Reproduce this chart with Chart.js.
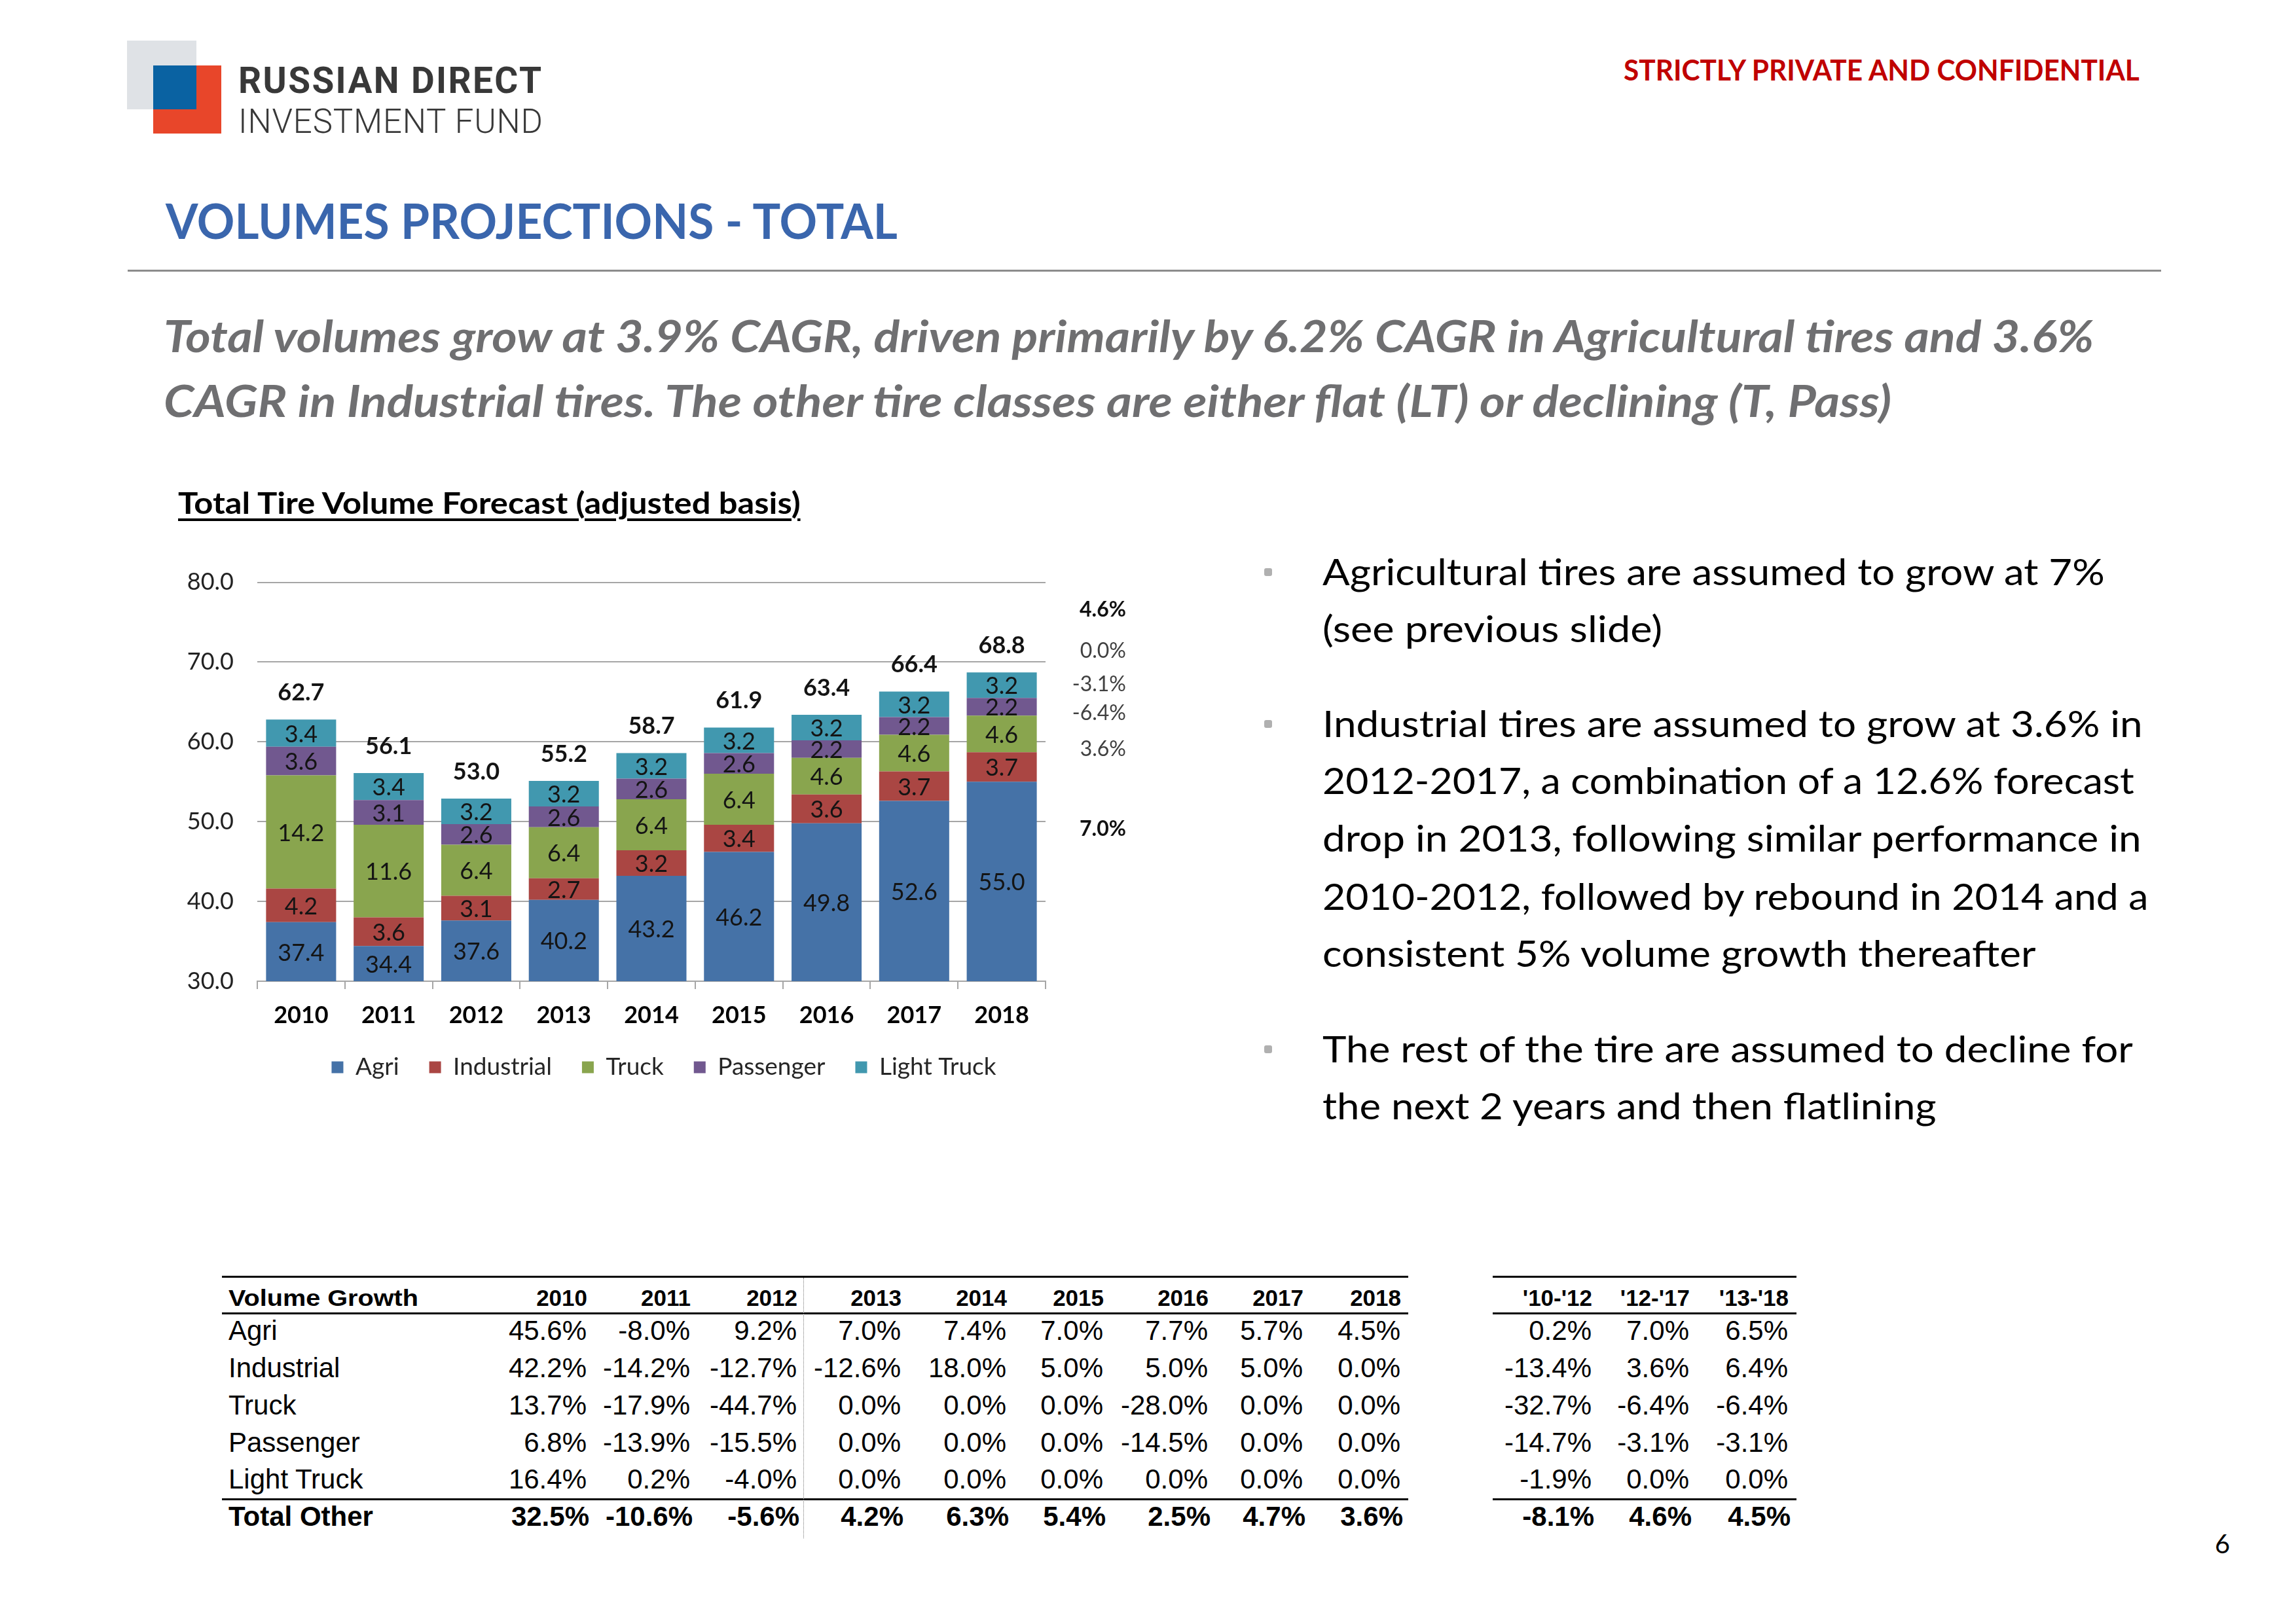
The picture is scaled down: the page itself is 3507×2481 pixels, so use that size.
<!DOCTYPE html>
<html>
<head>
<meta charset="utf-8">
<script src="https://cdn.jsdelivr.net/npm/chart.js@4.4.1/dist/chart.umd.min.js"></script>
<style>
  html, body { margin: 0; padding: 0; background: #fff; }
  #slide { position: relative; width: 3507px; height: 2481px; overflow: hidden; background: #fff; }
  .abs { position: absolute; }
</style>
</head>
<body>
<div id="slide">
  <!-- logo blocks -->
  <div class="abs" style="left:194px;top:62px;width:106px;height:105px;background:#dfe2e6"></div>
  <div class="abs" style="left:234px;top:100px;width:104px;height:104px;background:#e8462a"></div>
  <div class="abs" style="left:234px;top:100px;width:66px;height:67px;background:#0a62a2"></div>
  <!-- header rule -->
  <div class="abs" style="left:195px;top:412px;width:3106px;height:3px;background:#8c8c8c"></div>
  <!-- table rules -->
  <div class="abs" style="left:339px;top:1949px;width:1812px;height:3px;background:#000"></div>
  <div class="abs" style="left:339px;top:2005px;width:1812px;height:3px;background:#000"></div>
  <div class="abs" style="left:339px;top:2289px;width:1812px;height:3px;background:#000"></div>
  <div class="abs" style="left:2280px;top:1949px;width:464px;height:3px;background:#000"></div>
  <div class="abs" style="left:2280px;top:2005px;width:464px;height:3px;background:#000"></div>
  <div class="abs" style="left:2280px;top:2289px;width:464px;height:3px;background:#000"></div>
  <div class="abs" style="left:1227px;top:1952px;width:0;height:398px;border-left:1px dotted #777"></div>
  <div class="abs" style="left:240px;top:832px;width:1548px;height:838px">
    <canvas id="chart" width="1548" height="838"></canvas>
  </div>
</div>
<script>
// chart data
const years = ['2010', '2011', '2012', '2013', '2014', '2015', '2016', '2017', '2018'];
const agri = [37.4, 34.4, 37.6, 40.2, 43.2, 46.2, 49.8, 52.6, 55.0];
const industrial = [4.2, 3.6, 3.1, 2.7, 3.2, 3.4, 3.6, 3.7, 3.7];
const truck = [14.2, 11.6, 6.4, 6.4, 6.4, 6.4, 4.6, 4.6, 4.6];
const passenger = [3.6, 3.1, 2.6, 2.6, 2.6, 2.6, 2.2, 2.2, 2.2];
const lightTruck = [3.4, 3.4, 3.2, 3.2, 3.2, 3.2, 3.2, 3.2, 3.2];
const totals = [62.7, 56.1, 53.0, 55.2, 58.7, 61.9, 63.4, 66.4, 68.8];
const sideCagr = ['4.6%', '0.0%', '-3.1%', '-6.4%', '3.6%', '7.0%'];

// table data
const tableYears = ['2010', '2011', '2012', '2013', '2014', '2015', '2016', '2017', '2018'];
const cagrHeads = ["'10-'12", "'12-'17", "'13-'18"];
const rowNames = ['Agri', 'Industrial', 'Truck', 'Passenger', 'Light Truck', 'Total Other'];
const growthAgri = ['45.6%', '-8.0%', '9.2%', '7.0%', '7.4%', '7.0%', '7.7%', '5.7%', '4.5%', '0.2%', '7.0%', '6.5%'];
const growthIndustrial = ['42.2%', '-14.2%', '-12.7%', '-12.6%', '18.0%', '5.0%', '5.0%', '5.0%', '0.0%', '-13.4%', '3.6%', '6.4%'];
const growthTruck = ['13.7%', '-17.9%', '-44.7%', '0.0%', '0.0%', '0.0%', '-28.0%', '0.0%', '0.0%', '-32.7%', '-6.4%', '-6.4%'];
const growthPassenger = ['6.8%', '-13.9%', '-15.5%', '0.0%', '0.0%', '0.0%', '-14.5%', '0.0%', '0.0%', '-14.7%', '-3.1%', '-3.1%'];
const growthLightTruck = ['16.4%', '0.2%', '-4.0%', '0.0%', '0.0%', '0.0%', '0.0%', '0.0%', '0.0%', '-1.9%', '0.0%', '0.0%'];
const growthTotal = ['32.5%', '-10.6%', '-5.6%', '4.2%', '6.3%', '5.4%', '2.5%', '4.7%', '3.6%', '-8.1%', '4.6%', '4.5%'];

const bullets = [
  'Agricultural tires are assumed to grow at 7%',
  '(see previous slide)',
  'Industrial tires are assumed to grow at 3.6% in',
  '2012-2017, a combination of a 12.6% forecast',
  'drop in 2013, following similar performance in',
  '2010-2012, followed by rebound in 2014 and a',
  'consistent 5% volume growth thereafter',
  'The rest of the tire are assumed to decline for',
  'the next 2 years and then flatlining'
];

const slide = document.getElementById('slide');
const mctx = document.createElement('canvas').getContext('2d');

// place a text line by its baseline, optionally fitted to a width
function txt(str, x, base, size, o = {}) {
  const font = `${o.style || 'normal'} ${o.weight || 400} ${size}px ${o.fam || 'Lato'}`;
  mctx.font = font;
  const m = mctx.measureText(str);
  const asc = m.fontBoundingBoxAscent, desc = m.fontBoundingBoxDescent;
  const el = document.createElement('div');
  el.textContent = str;
  el.style.position = 'absolute';
  el.style.whiteSpace = 'pre';
  el.style.font = font;
  el.style.lineHeight = size + 'px';
  el.style.color = o.color || '#000';
  el.style.top = (base - (size - asc - desc) / 2 - asc) + 'px';
  const nw = m.width;
  let left = o.align === 'right' ? x - nw : x;
  if (o.w && o.ls) {
    el.style.letterSpacing = ((o.w - nw) / (str.length - 1)) + 'px';
    if (o.align === 'right') left = x - o.w;
  } else if (o.w) {
    el.style.transform = `scaleX(${o.w / nw})`;
    el.style.transformOrigin = o.align === 'right' ? 'right center' : 'left center';
  }
  if (o.underline) {
    el.style.textDecoration = 'underline';
    el.style.textDecorationThickness = '4px';
    el.style.textUnderlineOffset = '7px';
  }
  el.style.left = left + 'px';
  slide.appendChild(el);
}

// header
txt('RUSSIAN DIRECT', 364, 142, 55, { fam: 'Roboto', weight: 700, color: '#383838', w: 463, ls: true });
txt('INVESTMENT FUND', 364, 203, 51, { fam: 'Roboto', weight: 300, color: '#383838', w: 466, ls: true });
txt('STRICTLY PRIVATE AND CONFIDENTIAL', 2480, 123, 44, { weight: 700, color: '#c00000', w: 791 });
txt('VOLUMES PROJECTIONS - TOTAL', 253, 365, 74, { weight: 700, color: '#3a66ad', w: 1120 });
txt('Total volumes grow at 3.9% CAGR, driven primarily by 6.2% CAGR in Agricultural tires and 3.6%',
  250, 538, 67, { weight: 700, style: 'italic', color: '#6f6f71', w: 2957 });
txt('CAGR in Industrial tires. The other tire classes are either flat (LT) or declining (T, Pass)',
  250, 637, 67, { weight: 700, style: 'italic', color: '#6f6f71', w: 2646 });
txt('Total Tire Volume Forecast (adjusted basis)', 272, 785, 46, { weight: 700, w: 954, underline: true });

// bullets
const bulletBase = [894, 981, 1126, 1213, 1301, 1390, 1477, 1623, 1710];
const bulletW = [1196, 519, 1254, 1241, 1252, 1263, 1091, 1239, 939];
bullets.forEach((b, i) => txt(b, 2020, bulletBase[i], 56, { w: bulletW[i] }));
[0, 2, 7].forEach(i => {
  const d = document.createElement('div');
  d.className = 'abs';
  d.style.cssText += `left:1931px;top:${bulletBase[i] - 26}px;width:12px;height:12px;border-radius:3px;background:#b0b0b0`;
  slide.appendChild(d);
});

// CAGR notes beside the chart
const sideBase = [942, 1005, 1056, 1100, 1155, 1277];
sideCagr.forEach((s, i) => {
  const bold = i === 0 || i === sideCagr.length - 1;
  txt(s, 1720, sideBase[i], 32, { weight: bold ? 700 : 400, color: bold ? '#111' : '#404040', align: 'right' });
});

// table
const colRight = [896, 1054, 1217, 1376, 1537, 1685, 1845, 1990, 2139, 2431, 2580, 2731];
const rowBase = [2047, 2104, 2161, 2218, 2274, 2331];
const rows = [growthAgri, growthIndustrial, growthTruck, growthPassenger, growthLightTruck, growthTotal];
const tf = '"Liberation Sans", Arial, sans-serif';
txt('Volume Growth', 349, 1995, 35, { fam: tf, weight: 700, w: 290 });
tableYears.concat(cagrHeads).forEach((h, i) => txt(h, colRight[i] + 1, 1995, 35, { fam: tf, weight: 700, align: 'right' }));
rows.forEach((r, ri) => {
  const last = ri === rows.length - 1;
  txt(rowNames[ri], 349, rowBase[ri], 42, { fam: tf, weight: last ? 700 : 400 });
  r.forEach((v, ci) => txt(v, colRight[ci] + (last ? 4 : 0), rowBase[ri], 42, { fam: tf, weight: last ? 700 : 400, align: 'right' }));
});
txt('6', 3383, 2373, 40);

// chart
const barLabels = {
  id: 'barLabels',
  afterDatasetsDraw(chart) {
    const { ctx, chartArea } = chart;
    ctx.save();
    ctx.textAlign = 'center';
    ctx.textBaseline = 'middle';
    ctx.fillStyle = '#141414';
    ctx.font = '36px Lato';
    chart.data.datasets.forEach((ds, i) => {
      chart.getDatasetMeta(i).data.forEach((bar, j) => {
        const base = Math.min(bar.base, chartArea.bottom);
        ctx.fillText(ds.data[j].toFixed(1), bar.x, (bar.y + base) / 2 + 2);
      });
    });
    ctx.font = 'bold 36px Lato';
    chart.getDatasetMeta(chart.data.datasets.length - 1).data.forEach((bar, j) => {
      ctx.fillText(totals[j].toFixed(1), bar.x, bar.y - 41);
    });
    ctx.restore();
  }
};

Chart.defaults.font.family = 'Lato';

new Chart(document.getElementById('chart'), {
  type: 'bar',
  data: {
    labels: years,
    datasets: [
      { label: 'Agri', data: agri, backgroundColor: '#4572a7' },
      { label: 'Industrial', data: industrial, backgroundColor: '#aa4643' },
      { label: 'Truck', data: truck, backgroundColor: '#89a54e' },
      { label: 'Passenger', data: passenger, backgroundColor: '#71588f' },
      { label: 'Light Truck', data: lightTruck, backgroundColor: '#4198af' }
    ]
  },
  options: {
    responsive: false,
    animation: false,
    layout: { padding: { top: 24, left: 0, right: 0, bottom: 11 } },
    datasets: { bar: { barPercentage: 0.8, categoryPercentage: 1 } },
    plugins: {
      legend: {
        position: 'bottom',
        labels: { boxWidth: 18, boxHeight: 18, padding: 46, color: '#262626', font: { size: 37 } }
      },
      tooltip: { enabled: false }
    },
    scales: {
      x: {
        stacked: true,
        grid: { drawOnChartArea: false, drawTicks: true, tickLength: 12, offset: true, color: '#a6a6a6', lineWidth: 2 },
        border: { color: '#a6a6a6', width: 2 },
        ticks: { color: '#000', font: { size: 36, weight: 'bold' }, padding: 19 },
        afterFit: s => { s.height = 67; }
      },
      y: {
        stacked: true,
        min: 30,
        max: 80,
        ticks: { stepSize: 10, callback: v => v.toFixed(1), color: '#222', font: { size: 36 }, padding: 36 },
        grid: { color: '#a6a6a6', lineWidth: 2, drawTicks: false },
        border: { display: false },
        afterFit: s => { s.width = 153; }
      },
      pad: {
        axis: 'y',
        type: 'linear',
        position: 'right',
        grid: { display: false },
        border: { display: false },
        ticks: { display: false },
        afterFit: s => { s.width = 191; }
      }
    }
  },
  plugins: [barLabels]
});
</script>
</body>
</html>
